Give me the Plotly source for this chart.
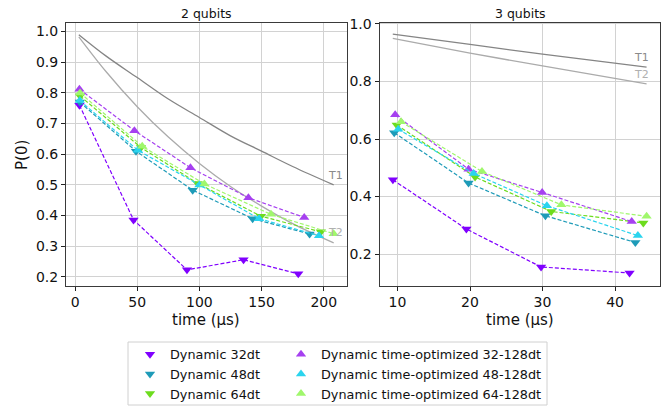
import plotly.graph_objects as go

# ---------------- data ----------------
# 2 qubits
t1_2q_t = [3, 25, 50, 75, 100, 125, 150, 175, 208]
t1_2q_p = [0.99, 0.92, 0.85, 0.78, 0.72, 0.66, 0.61, 0.56, 0.50]
t2_2q_t = [3, 25, 50, 75, 100, 125, 150, 175, 208]
t2_2q_p = [0.983, 0.869, 0.755, 0.656, 0.570, 0.495, 0.431, 0.374, 0.311]

d32_2q_t = [3.5, 47, 90, 135.5, 179.5]
d32_2q_p = [0.76, 0.386, 0.223, 0.256, 0.21]
d48_2q_t = [3.8, 49, 94.6, 142.8, 188.6]
d48_2q_p = [0.77, 0.61, 0.483, 0.39, 0.34]
d64_2q_t = [4.0, 53, 98.6, 149.5, 197.7]
d64_2q_p = [0.79, 0.622, 0.505, 0.398, 0.347]
o32_2q_t = [3.5, 47.7, 92.8, 139.4, 184.3]
o32_2q_p = [0.812, 0.677, 0.556, 0.458, 0.394]
o48_2q_t = [3.8, 50.5, 100, 148, 196.2]
o48_2q_p = [0.775, 0.613, 0.50, 0.39, 0.334]
o64_2q_t = [4.0, 54, 104, 157.6, 208]
o64_2q_p = [0.80, 0.626, 0.503, 0.404, 0.341]

# 3 qubits
t1_3q_t = [9.35, 20, 30, 44.35]
t1_3q_p = [0.965, 0.929, 0.895, 0.85]
t2_3q_t = [9.35, 20, 30, 44.35]
t2_3q_p = [0.95, 0.899, 0.854, 0.792]

d32_3q_t = [9.37, 19.5, 29.8, 42.0]
d32_3q_p = [0.458, 0.287, 0.155, 0.134]
d48_3q_t = [9.55, 19.8, 30.4, 42.8]
d48_3q_p = [0.622, 0.447, 0.333, 0.24]
d64_3q_t = [9.9, 20.7, 31.2, 43.9]
d64_3q_p = [0.649, 0.468, 0.348, 0.308]
o32_3q_t = [9.68, 19.8, 29.95, 42.3]
o32_3q_p = [0.684, 0.495, 0.414, 0.313]
o48_3q_t = [10.1, 20.5, 30.6, 43.15]
o48_3q_p = [0.634, 0.48, 0.368, 0.264]
o64_3q_t = [10.5, 21.65, 32.6, 44.35]
o64_3q_p = [0.66, 0.487, 0.371, 0.331]

names = ["Dynamic 32dt", "Dynamic 48dt", "Dynamic 64dt",
         "Dynamic time-optimized 32-128dt", "Dynamic time-optimized 48-128dt",
         "Dynamic time-optimized 64-128dt"]
colors = ["#8000ff", "#1e9bb8", "#6ddc1e", "#a640f0", "#2ad4ee", "#a0f76c"]
symbols = ["triangle-down"] * 3 + ["triangle-up"] * 3

series_2q = [(d32_2q_t, d32_2q_p), (d48_2q_t, d48_2q_p), (d64_2q_t, d64_2q_p),
             (o32_2q_t, o32_2q_p), (o48_2q_t, o48_2q_p), (o64_2q_t, o64_2q_p)]
series_3q = [(d32_3q_t, d32_3q_p), (d48_3q_t, d48_3q_p), (d64_3q_t, d64_3q_p),
             (o32_3q_t, o32_3q_p), (o48_3q_t, o48_3q_p), (o64_3q_t, o64_3q_p)]

W, H = 670, 407
FONT = "DejaVu Sans"

fig = go.Figure()

# coherence reference curves
for xa, ya, (tx, py), col in [
    ("x", "y", (t1_2q_t, t1_2q_p), "#858585"),
    ("x", "y", (t2_2q_t, t2_2q_p), "#ababab"),
    ("x2", "y2", (t1_3q_t, t1_3q_p), "#858585"),
    ("x2", "y2", (t2_3q_t, t2_3q_p), "#ababab"),
]:
    fig.add_trace(go.Scatter(x=tx, y=py, mode="lines", xaxis=xa, yaxis=ya,
                             line=dict(color=col, width=1.3, shape="spline"),
                             showlegend=False, hoverinfo="skip"))

# measured series: dashed line + markers
for i in range(6):
    for xa, ya, (tx, py) in [("x", "y", series_2q[i]), ("x2", "y2", series_3q[i])]:
        fig.add_trace(go.Scatter(x=tx, y=py, mode="lines", xaxis=xa, yaxis=ya,
                                 line=dict(color=colors[i], width=1.2, dash="4px,2px"),
                                 showlegend=False, hoverinfo="skip"))
        fig.add_trace(go.Scatter(x=tx, y=py, mode="markers", xaxis=xa, yaxis=ya,
                                 marker=dict(color=colors[i], symbol=symbols[i], size=9,
                                             line=dict(width=0)),
                                 name=names[i], legendgroup=names[i],
                                 showlegend=(xa == "x"),
                                 legend="legend" if i < 3 else "legend2"))

ydom = [1 - 285.5 / H, 1 - 22.7 / H]
axis_common = dict(showline=True, linecolor="#3a3a3a", linewidth=1, mirror=True,
                   ticks="outside", ticklen=4, tickcolor="#222", showgrid=True,
                   gridcolor="#d2d2d2", gridwidth=1, zeroline=False, automargin=False,
                   tickfont=dict(family=FONT, size=14, color="#111"))

legend_common = dict(xanchor="left", yanchor="top", bgcolor="rgba(0,0,0,0)",
                     borderwidth=0, font=dict(family=FONT, size=12.8, color="#111"),
                     tracegroupgap=0)

fig.update_layout(
    width=W, height=H,
    margin=dict(l=0, r=0, t=0, b=0, autoexpand=False),
    paper_bgcolor="white", plot_bgcolor="white",
    font=dict(family=FONT, color="#111"),
    xaxis=dict(domain=[66 / W, 346.5 / W], range=[-7.3, 218.3],
               tickvals=[0, 50, 100, 150, 200], anchor="y", **axis_common),
    yaxis=dict(domain=ydom, range=[0.172, 1.029], dtick=0.1, tick0=0,
               tickformat=".1f", anchor="x", **axis_common),
    xaxis2=dict(domain=[379.5 / W, 660 / W], range=[7.52, 46.2],
                tickvals=[10, 20, 30, 40], anchor="y2", **axis_common),
    yaxis2=dict(domain=ydom, range=[0.0905, 1.0045], dtick=0.2, tick0=0,
                tickformat=".1f", anchor="x2", **axis_common),
    legend=dict(x=130 / W, y=1 - 339.5 / H, **legend_common),
    legend2=dict(x=281 / W, y=1 - 339.5 / H, **legend_common),
    shapes=[dict(type="rect", xref="paper", yref="paper",
                 x0=128 / W, x1=547 / W, y0=1 - 405 / H, y1=1 - 342 / H,
                 line=dict(color="#d0d0d0", width=1), fillcolor="rgba(0,0,0,0)")],
)


def label(text, px, py, size, angle=0, color="#111"):
    return dict(text=text, x=px / W, y=1 - py / H, xref="paper", yref="paper",
                xanchor="center", yanchor="middle", showarrow=False, textangle=angle,
                font=dict(family=FONT, size=size, color=color))


ann = [
    label("2 qubits", 206, 14, 12.5),
    label("3 qubits", 520, 14, 12.5),
    label("P(0)", 22, 155, 15, angle=-90),
    label("time (µs)", 206, 320, 15),
    label("time (µs)", 520, 320, 15),
]
# T1 / T2 tags next to the curve ends
ann += [
    dict(text="T1", x=t1_2q_t[-1] - 6.5, y=t1_2q_p[-1] + 0.03, xref="x", yref="y",
         xanchor="left", yanchor="middle", showarrow=False,
         font=dict(family=FONT, size=11, color="#8a8a8a")),
    dict(text="T2", x=t2_2q_t[-1] - 6.5, y=t2_2q_p[-1] + 0.034, xref="x", yref="y",
         xanchor="left", yanchor="middle", showarrow=False,
         font=dict(family=FONT, size=11, color="#b0b0b0")),
    dict(text="T1", x=t1_3q_t[-1] - 1.95, y=t1_3q_p[-1] + 0.032, xref="x2", yref="y2",
         xanchor="left", yanchor="middle", showarrow=False,
         font=dict(family=FONT, size=11, color="#8a8a8a")),
    dict(text="T2", x=t2_3q_t[-1] - 1.95, y=t2_3q_p[-1] + 0.031, xref="x2", yref="y2",
         xanchor="left", yanchor="middle", showarrow=False,
         font=dict(family=FONT, size=11, color="#b0b0b0")),
]
fig.update_layout(annotations=ann)

fig.write_html("out.html")
